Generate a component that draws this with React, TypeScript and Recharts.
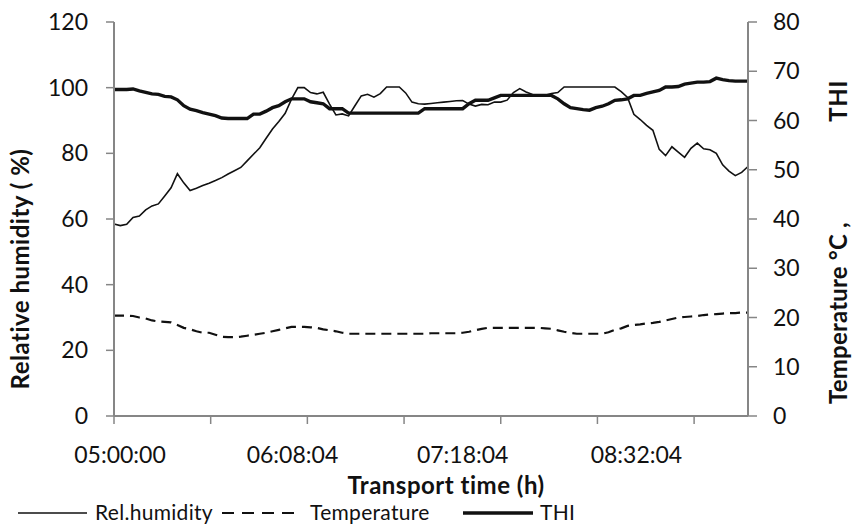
import React from 'react';
import { LineChart, Line, XAxis, YAxis, Legend } from 'recharts';

// readings taken every ~6.3px along the time axis (101 samples)
const rhValues = [
  58.5, 58.0, 58.4, 60.5, 60.9, 62.8, 64.0, 64.6, 67.0, 69.5,
  73.8, 71.0, 68.7, 69.4, 70.2, 70.9, 71.7, 72.6, 73.7, 74.7,
  75.7, 77.7, 79.7, 81.7, 84.6, 87.4, 89.7, 92.2, 96.5, 100.0,
  100.0, 98.5, 98.1, 98.6, 95.0, 91.7, 92.0, 91.4, 94.5, 97.5,
  98.0, 97.1, 98.2, 100.2, 100.2, 100.2, 98.4, 95.6, 95.1, 95.0,
  95.2, 95.4, 95.6, 95.8, 96.0, 96.1, 95.0, 94.4, 94.9, 94.8,
  95.6, 95.6, 96.2, 98.5, 99.7, 98.7, 97.9, 97.8, 97.7, 98.2,
  98.5, 100.2, 100.2, 100.2, 100.2, 100.2, 100.2, 100.2, 100.2, 100.2,
  98.8, 97.0, 91.9, 90.3, 88.5, 87.0, 81.2, 79.3, 82.0, 80.4,
  78.8, 81.5, 83.1, 81.4, 81.1, 80.0, 76.5, 74.6, 73.2, 74.2,
  76.0,
];

const tempValues = [
  20.4, 20.4, 20.4, 20.3, 20.0, 19.8, 19.4, 19.2, 19.1, 19.0,
  18.5, 17.9, 17.6, 17.2, 16.9, 16.9, 16.5, 16.1, 16.0, 16.0,
  16.1, 16.3, 16.5, 16.7, 16.9, 17.2, 17.5, 17.8, 18.1, 18.1,
  18.1, 18.0, 17.9, 17.6, 17.4, 17.2, 16.9, 16.7, 16.7, 16.7,
  16.7, 16.7, 16.7, 16.7, 16.7, 16.7, 16.7, 16.7, 16.7, 16.7,
  16.8, 16.8, 16.8, 16.8, 16.8, 16.9, 17.1, 17.4, 17.7, 17.9,
  17.9, 17.9, 17.9, 17.9, 17.9, 17.9, 17.9, 17.9, 17.8, 17.7,
  17.4, 17.1, 16.9, 16.7, 16.7, 16.7, 16.7, 16.7, 17.0, 17.5,
  17.8, 18.3, 18.5, 18.6, 18.8, 18.9, 19.1, 19.4, 19.7, 20.0,
  20.1, 20.2, 20.3, 20.5, 20.6, 20.7, 20.8, 20.9, 20.9, 21.0,
  21.0,
];

const thiValues = [
  66.3, 66.3, 66.3, 66.4, 66.0, 65.7, 65.4, 65.3, 64.9, 64.8,
  64.2, 63.0, 62.3, 62.0, 61.6, 61.3, 61.0, 60.5, 60.4, 60.4,
  60.4, 60.4, 61.3, 61.3, 61.9, 62.6, 63.0, 63.8, 64.4, 64.4,
  64.4, 63.8, 63.6, 63.4, 62.4, 62.4, 62.4, 61.5, 61.5, 61.5,
  61.5, 61.5, 61.5, 61.5, 61.5, 61.5, 61.5, 61.5, 61.5, 62.4,
  62.4, 62.4, 62.4, 62.4, 62.4, 62.4, 63.4, 64.1, 64.1, 64.1,
  64.6, 65.1, 65.1, 65.1, 65.1, 65.1, 65.1, 65.1, 65.1, 65.1,
  64.4, 63.4, 62.6, 62.4, 62.2, 62.1, 62.6, 62.9, 63.4, 64.1,
  64.2, 64.4, 65.1, 65.1, 65.5, 65.8, 66.1, 66.8, 66.8, 66.9,
  67.4, 67.6, 67.8, 67.8, 67.9, 68.6, 68.3, 68.1, 68.0, 68.0,
  68.0,
];

// x axis: tick marks and time labels sit at different sample positions
const tickMarks = [0, 15.25, 30.5, 45.75, 61, 76.25, 91.5];
const timeLabels = ['05:00:00', '06:08:04', '07:18:04', '08:32:04'];
const timeLabelAt = [0.95, 28.15, 55, 82.4];

const rhTicks = [0, 20, 40, 60, 80, 100, 120];
const rightTicks = [0, 10, 20, 30, 40, 50, 60, 70, 80];

const series = [
  { key: 'rh', name: 'Rel.humidity', axis: 'left', width: 1.6, dash: undefined, legendDash: undefined },
  { key: 'temp', name: 'Temperature', axis: 'right', width: 2.2, dash: '10 6', legendDash: '12 8' },
  { key: 'thi', name: 'THI', axis: 'right', width: 3.4, dash: undefined, legendDash: undefined },
];

const chartData = rhValues.map((rh, i) => ({
  i,
  rh,
  temp: tempValues[i],
  thi: thiValues[i],
}));

const FONT = 'Lato';
const INK = '#111';
const AXIS = '#868686';
const titleStyle = { fontSize: 24, fontWeight: 700, fontFamily: FONT, letterSpacing: 0.5 };

const TimeTick = (props: any) => {
  const { x, y, payload } = props;
  const li = timeLabelAt.indexOf(payload.value);
  if (li >= 0) {
    return (
      <text x={x} y={y + 47} textAnchor="middle" fontSize={23} fontFamily={FONT} fill={INK}>
        {timeLabels[li]}
      </text>
    );
  }
  return <line x1={x} x2={x} y1={y} y2={y + 8} stroke={AXIS} strokeWidth={1.5} />;
};

const XTitle = (props: any) => {
  const { x, y, width, height } = props.viewBox;
  return (
    <text x={x + width / 2 + 15} y={y + height - 2} textAnchor="middle" style={titleStyle} fill={INK}>
      Transport time (h)
    </text>
  );
};

const LeftTitle = (props: any) => {
  const { x, y, height } = props.viewBox;
  const tx = x - 25;
  const ty = y + height / 2 + 50;
  return (
    <text x={tx} y={ty} transform={`rotate(-90, ${tx}, ${ty})`} textAnchor="middle" style={titleStyle} fill={INK}>
      Relative humidity ( %)
    </text>
  );
};

const RightTitle = (props: any) => {
  const { x, y, width } = props.viewBox;
  const tx = x + width + 39;
  const t1 = y + 291;
  const t2 = y + 79;
  return (
    <g>
      <text x={tx} y={t1} transform={`rotate(-90, ${tx}, ${t1})`} textAnchor="middle" style={{ ...titleStyle, letterSpacing: 0.2 }} fill={INK}>
        Temperature  °C ,
      </text>
      <text x={tx} y={t2} transform={`rotate(-90, ${tx}, ${t2})`} textAnchor="middle" style={titleStyle} fill={INK}>
        THI
      </text>
    </g>
  );
};

const legendSpots = [
  { x: 18, w: 69, tx: 95 },
  { x: 222, w: 75, tx: 310 },
  { x: 463, w: 70, tx: 540 },
];

const renderLegend = () => (
  <svg width={854} height={32} style={{ display: 'block' }}>
    {series.map((s, k) => (
      <g key={s.key}>
        <line
          x1={legendSpots[k].x}
          x2={legendSpots[k].x + legendSpots[k].w}
          y1={19}
          y2={19}
          stroke={INK}
          strokeWidth={s.width}
          strokeDasharray={s.legendDash}
        />
        <text x={legendSpots[k].tx} y={26} fontSize={21} fontFamily={FONT} fill={INK} letterSpacing={0.3}>
          {s.name}
        </text>
      </g>
    ))}
  </svg>
);

export default function App() {
  return (
    <div style={{ position: 'absolute', left: 0, top: 0, width: 854, height: 526, background: '#fff', fontFamily: FONT }}>
      <LineChart width={854} height={526} data={chartData} margin={{ top: 22, right: 46, bottom: 30, left: 54 }}>
        <XAxis
          dataKey="i"
          type="number"
          domain={[0, 100]}
          ticks={[...tickMarks, ...timeLabelAt].sort((a, b) => a - b)}
          interval={0}
          height={80}
          tickSize={0}
          tickMargin={0}
          tickLine={false}
          tick={TimeTick}
          axisLine={{ stroke: AXIS, strokeWidth: 2 }}
          label={{ content: XTitle }}
        />
        <YAxis
          yAxisId="left"
          domain={[0, 120]}
          ticks={rhTicks}
          interval={0}
          width={60}
          tickSize={8}
          tickMargin={18}
          tick={{ fontSize: 23, fontFamily: FONT, fill: INK }}
          tickLine={{ stroke: AXIS, strokeWidth: 1.5 }}
          axisLine={{ stroke: AXIS, strokeWidth: 2 }}
          label={{ content: LeftTitle }}
        />
        <YAxis
          yAxisId="right"
          orientation="right"
          domain={[0, 80]}
          ticks={rightTicks}
          interval={0}
          width={60}
          tickSize={9}
          tickMargin={16}
          tick={{ fontSize: 23, fontFamily: FONT, fill: INK }}
          tickLine={{ stroke: AXIS, strokeWidth: 1.5 }}
          axisLine={{ stroke: AXIS, strokeWidth: 2 }}
          label={{ content: RightTitle }}
        />
        {series.map((s) => (
          <Line
            key={s.key}
            yAxisId={s.axis}
            dataKey={s.key}
            name={s.name}
            type="linear"
            stroke={INK}
            strokeWidth={s.width}
            strokeDasharray={s.dash}
            dot={false}
            activeDot={false}
            isAnimationActive={false}
          />
        ))}
        <Legend
          layout="vertical"
          align="center"
          verticalAlign="middle"
          content={renderLegend}
          wrapperStyle={{ left: 0, top: 494, width: 854, height: 32 }}
        />
      </LineChart>
    </div>
  );
}
